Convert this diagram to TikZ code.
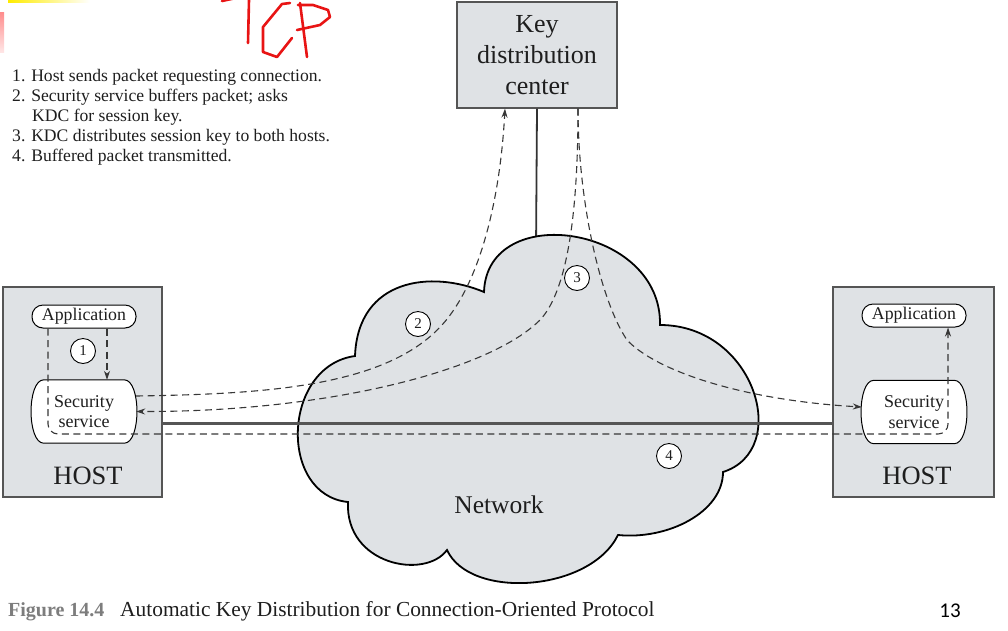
\documentclass[tikz,border=0pt]{standalone}
\usepackage{fontspec}
\setmainfont{Liberation Serif}
\newfontfamily\numfont{Carlito}
\usetikzlibrary{arrows.meta}
\definecolor{boxgray}{RGB}{223,226,229}
\definecolor{edgegray}{RGB}{85,85,85}
\definecolor{dashgray}{RGB}{55,55,55}
\definecolor{redpen}{RGB}{232,20,20}
\definecolor{capgray}{RGB}{125,125,125}
\definecolor{textgray}{RGB}{30,30,30}
\begin{document}
\begin{tikzpicture}[x=1pt,y=-1pt,
  hostbox/.style={draw=edgegray, line width=1.3pt, fill=boxgray, minimum height=210pt, inner sep=0pt},
  kdcbox/.style={draw=edgegray, line width=1.3pt, fill=boxgray, minimum width=160pt, minimum height=106pt, inner sep=0pt, align=center, font=\fontsize{26}{31}\selectfont, text=textgray},
  bigtext/.style={font=\fontsize{26.5}{30}\selectfont, text=textgray, inner sep=0pt},
  appbox/.style={draw=black, line width=1pt, fill=white, rounded corners=11pt, minimum width=104pt, minimum height=23pt, inner sep=0pt, font=\fontsize{17.8}{20}\selectfont, text=textgray},
  secnode/.style={minimum width=104pt, minimum height=63pt, inner sep=0pt, align=center, font=\fontsize{18}{20.5}\selectfont, text=textgray},
  secline/.style={draw=black, line width=1pt, fill=white},
  numcirc/.style={circle, draw=black, line width=0.9pt, fill=white, inner sep=0pt, minimum size=25pt, font=\fontsize{15}{15}\selectfont, text=textgray},
  dashline/.style={draw=dashgray, line width=1.1pt, dash pattern=on 7pt off 4.5pt},
  tip/.style={-{Stealth[length=9pt,width=6pt]}},
  legend/.style={anchor=base west, inner sep=0pt, font=\fontsize{17.6}{20}\selectfont, text=textgray},
  cloudshape/.style={draw=black, line width=1.8pt, fill=boxgray},
  redstroke/.style={draw=redpen, line width=2.6pt, line cap=round, line join=round}
]
\useasboundingbox (0,0) rectangle (1008,630);

% screenshot artefacts
\shade[left color=yellow!85!orange, right color=white] (8,0) rectangle (90,2.5);
\shade[top color=red!45, bottom color=red!10] (0,12) rectangle (4,52);

% handwritten TCP
\draw[redstroke] (222,1) -- (236,-2);
\draw[redstroke] (249,0) -- (248,43);
\draw[redstroke] (290,3) -- (282,4) -- (263,27) -- (263,52) -- (277,57) -- (292,38);
\draw[redstroke] (300,3) -- (307,57);
\draw[redstroke] (298,5) -- (313,5) -- (328,10) -- (330,17) -- (320,25) -- (297,30);

% legend
\node[legend] (l1) at (12,81) {1. Host sends packet requesting connection.};
\node[legend] (l2) at (12,101) {2. Security service buffers packet; asks};
\node[legend] (l3) at (32,121) {KDC for session key.};
\node[legend] (l4) at (12,141) {3. KDC distributes session key to both hosts.};
\node[legend] (l5) at (12,161) {4. Buffered packet transmitted.};

% boxes
\node[hostbox, minimum width=159pt] (hostL) at (82.5,392) {};
\node[hostbox, minimum width=161pt] (hostR) at (913.5,392) {};
\node[kdcbox] (kdc) at (537,55) {Key\\distribution\\center};

% KDC to network link
\coordinate (ctop) at (536,250);
\draw[black!80, line width=1.8pt] (kdc.south) -- (ctop);

% cloud
\draw[cloudshape] (348,502) .. controls (278,495) and (282,366) .. (355,356)
 .. controls (358,278) and (432,270) .. (484,292)
 .. controls (487,200) and (662,225) .. (660,325)
 .. controls (755,325) and (792,450) .. (723,472)
 .. controls (723,512) and (668,540) .. (618,535)
 .. controls (590,592) and (470,600) .. (447,550)
 .. controls (425,580) and (345,565) .. cycle;
\node[bigtext, font=\fontsize{25.5}{30}\selectfont] (net) at (499,505) {Network};

% host to host link
\coordinate (linky) at (0,423);
\draw[edgegray, line width=3pt] (hostL.east |- linky) -- (hostR.west |- linky);

% host internals
\node[bigtext] (hostLt) at (88,476) {HOST};
\node[bigtext] (hostRt) at (917,476) {HOST};
\node[appbox] (appL) at (84,316.5) {Application};
\node[appbox] (appR) at (914,315.5) {Application};
\node[secnode] (secL) at (84,411.5) {};
\node[secnode] (secR) at (914,412) {};
\foreach \s in {secL,secR}{
  \draw[secline] ([xshift=12pt]\s.north west) -- ([xshift=-12pt]\s.north east)
    .. controls ([xshift=5pt]\s.north east) and ([xshift=5pt]\s.south east) .. ([xshift=-12pt]\s.south east)
    -- ([xshift=12pt]\s.south west)
    .. controls ([xshift=-5pt]\s.south west) and ([xshift=-5pt]\s.north west) .. cycle;
}
\node[secnode] (secLt) at (secL) {Security\\service};
\node[secnode] (secRt) at (secR) {Security\\service};

% dashed flows
\draw[dashline, tip] ([xshift=23pt]appL.south) -- ([xshift=23pt]secL.north);
\coordinate (p4) at (500,434);
\draw[dashline, tip, rounded corners=10pt] ([xshift=-36pt]appL.south) |- (p4) -| ([xshift=34pt]appR.south);
\draw[dashline, tip] ([yshift=15.5pt]secL.east) .. controls (260,394) and (385,388) .. (442,325)
  .. controls (480,283) and (500,200) .. ([xshift=-32pt]kdc.south);
\draw[dashline, tip] ([xshift=41pt]kdc.south) .. controls (578,200) and (570,288) .. (540,320)
  .. controls (490,370) and (330,412) .. (secL.east);
\draw[dashline, tip] ([xshift=41pt]kdc.south) .. controls (578,200) and (600,300) .. (627,340)
  .. controls (655,370) and (740,400) .. ([yshift=5pt]secR.west);

% step numbers
\node[numcirc] (c1) at (83,351) {1};
\node[numcirc] (c2) at (418,324) {2};
\node[numcirc] (c3) at (577,278) {3};
\node[numcirc] (c4) at (669,456) {4};

% caption
\node[anchor=base west, inner sep=0pt, font=\fontsize{20}{24}\selectfont\bfseries, text=capgray] (figno) at (8,616) {Figure 14.4};
\node[anchor=base west, inner sep=0pt, font=\fontsize{21.4}{24}\selectfont, text=textgray] (cap) at (120,616) {Automatic Key Distribution for Connection-Oriented Protocol};
\node[anchor=base, inner sep=0pt, font=\numfont\fontsize{21}{24}\selectfont, text=black] (pg) at (950,617) {13};
\end{tikzpicture}
\end{document}
